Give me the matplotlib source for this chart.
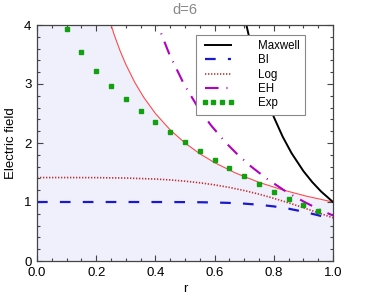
import numpy as np
import matplotlib
matplotlib.use('Agg')
import matplotlib.pyplot as plt

plt.rcParams['font.family'] = ['Liberation Sans', 'DejaVu Sans']

# Maxwell field
r_max = [0.70, 0.72, 0.75, 0.78, 0.80, 0.83, 0.86, 0.90, 0.93, 0.96, 1.00]
e_max = [4.165, 3.721, 3.160, 2.702, 2.441, 2.107, 1.828, 1.524, 1.337, 1.177, 1.000]

# boundary of the shaded region
r_bound = [0.24, 0.26, 0.28, 0.30, 0.33, 0.36, 0.40, 0.45, 0.50, 0.55, 0.60,
           0.67, 0.75, 0.83, 0.91, 1.00]
e_bound = [4.167, 3.846, 3.571, 3.333, 3.030, 2.778, 2.500, 2.222, 2.000, 1.818,
           1.667, 1.493, 1.333, 1.205, 1.099, 1.000]

# BI and Log on the same grid
r_grid = [0.0, 0.1, 0.2, 0.3, 0.4, 0.45, 0.5, 0.55, 0.6, 0.65, 0.7, 0.75, 0.8,
          0.85, 0.9, 0.95, 1.0]
e_bi = [1.0, 1.0, 1.0, 0.9999, 0.9997, 0.9992, 0.9981, 0.9959, 0.9917, 0.9844,
        0.9724, 0.9534, 0.9254, 0.8865, 0.8361, 0.7753, 0.7071]
e_log = [1.4142, 1.4141, 1.4126, 1.4062, 1.3889, 1.3738, 1.3531, 1.3257, 1.2905,
         1.2469, 1.1944, 1.1328, 1.0627, 0.9855, 0.9029, 0.8175, 0.7321]

# Euler-Heisenberg
r_eh = [0.3946, 0.4082, 0.4475, 0.4962, 0.5443, 0.5877, 0.6389, 0.6786, 0.7236,
        0.7750, 0.8343, 0.8675, 0.9036, 0.9430, 0.9865, 1.0]
e_eh = [4.2, 4.0, 3.5, 3.0, 2.6, 2.3, 2.0, 1.8, 1.6, 1.4, 1.2, 1.1, 1.0, 0.9, 0.8, 0.771]

# exponential
r_exp = [0.10, 0.15, 0.20, 0.25, 0.30, 0.35, 0.40, 0.45, 0.50, 0.55, 0.60, 0.65,
         0.70, 0.75, 0.80, 0.85, 0.90, 0.95]
e_exp = [3.93, 3.54, 3.22, 2.97, 2.74, 2.54, 2.35, 2.18, 2.02, 1.86, 1.71, 1.58,
         1.445, 1.31, 1.175, 1.055, 0.95, 0.84]

fig = plt.figure(figsize=(3.82, 3.07), dpi=100)
ax = fig.add_axes([37/382, 1-261/307, 296/382, 236/307])
ax.set_facecolor('#f0f0fd')

# white above the boundary curve, lavender below
ax.fill_between(r_bound, e_bound, 4.5, color='white', lw=0)
ax.plot(r_bound, e_bound, color='#ff4a4a', lw=0.8)

ax.plot(r_max, e_max, color='black', lw=1.4, label='Maxwell')
ax.plot(r_grid, e_bi, color='#1a1acc', lw=1.6, dashes=(4.8, 5.5), label='BI')
ax.plot(r_grid, e_log, color='#c03030', lw=1.2, dashes=(0.8, 1.0), label='Log')
ax.plot(r_eh, e_eh, color='#b000c0', lw=1.5, dashes=(6.5, 3.8, 0.5, 3.8), label='EH')
ax.plot(r_exp, e_exp, ls='none', marker='s', ms=3.0, color='#10a010', label='Exp')

ax.set_xlim(0, 1)
ax.set_ylim(0, 4)
ax.set_xticks(np.arange(0, 1.01, 0.2))
ax.set_xticks(np.arange(0, 1.01, 0.05), minor=True)
ax.set_yticks(np.arange(0, 5, 1))
ax.set_yticks(np.arange(0, 4.01, 0.2), minor=True)
ax.tick_params(which='both', direction='in', top=True, right=True,
               labelsize=9.5, color='#444444', width=0.8)
ax.tick_params(which='major', length=4, pad=4)
ax.tick_params(which='minor', length=2.2)
for s in ax.spines.values():
    s.set_color('#444444')
    s.set_linewidth(0.9)

ax.set_xlabel('r', fontsize=9.5, labelpad=3)
ax.set_ylabel('Electric field', fontsize=9.5, labelpad=5)
ax.set_title('d=6', fontsize=10.5, color='#888888', pad=8)

leg = ax.legend(loc='upper left', bbox_to_anchor=(0.537, 0.958), borderaxespad=0,
                fontsize=8.3, handlelength=2.9, handletextpad=2.0, labelspacing=0.2,
                borderpad=0.45, numpoints=4, fancybox=False, framealpha=1,
                edgecolor='#888888')
leg.get_frame().set_linewidth(0.8)

fig.savefig('out.png', dpi=100)
